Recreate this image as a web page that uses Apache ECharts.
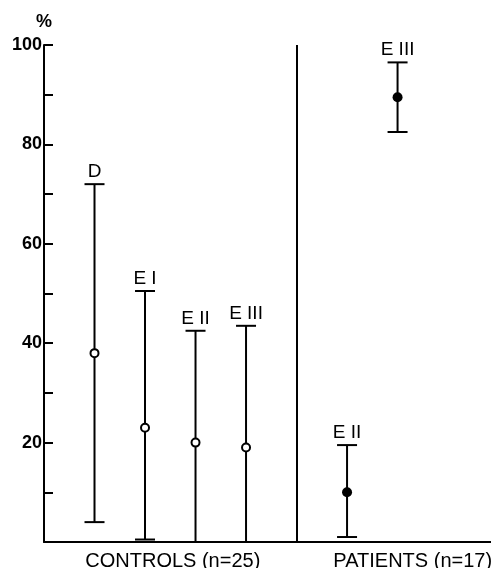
<!DOCTYPE html>
<html>
<head>
<meta charset="utf-8">
<script src="https://cdn.jsdelivr.net/npm/echarts@6/dist/echarts.min.js"></script>
<style>html,body{margin:0;padding:0;background:#fff;}#c{width:491px;height:568px;}</style>
</head>
<body>
<div id="c"></div>
<script>
// Data
const labels = ["D", "E I", "E II", "E III", "E II", "E III"];
const slots = [1, 2, 3, 4, 6, 7];          // horizontal slot of each marker
const groups = ["control", "control", "control", "control", "patient", "patient"];
const means = [38, 23, 20, 19, 10, 89.5];
const lows = [4, 0.5, 0, 0, 1, 82.5];
const highs = [72, 50.5, 42.5, 43.5, 19.5, 96.5];
const dividerSlot = 5;
const groupLabels = ["CONTROLS (n=25)", "PATIENTS (n=17)"];
const groupLabelPos = [2.55, 7.3];
const yTickLabels = [20, 40, 60, 80, 100];

const errData = slots.map((s, i) => [s, lows[i], highs[i], labels[i]]);
const ctrlPts = [], patPts = [];
slots.forEach((s, i) => {
  (groups[i] === "control" ? ctrlPts : patPts).push([s, means[i]]);
});

const FONT = 'Liberation Sans, Arial, sans-serif';
const chart = echarts.init(document.getElementById('c'));
chart.setOption({
  animation: false,
  backgroundColor: '#fff',
  grid: { left: 44, right: 0, top: 45, bottom: 26, containLabel: false, outerBoundsMode: 'none' },
  xAxis: {
    type: 'value', min: 0, max: 8.85,
    splitLine: { show: false },
    axisLine: { show: true, onZero: false, lineStyle: { color: '#000', width: 2 } },
    axisTick: { show: false },
    axisLabel: {
      show: true,
      customValues: groupLabelPos,
      formatter: v => {
        const k = groupLabelPos.findIndex(p => Math.abs(p - v) < 1e-6);
        return k >= 0 ? groupLabels[k] : '';
      },
      color: '#000', fontSize: 20, fontFamily: FONT,
      margin: 9
    }
  },
  yAxis: {
    type: 'value', min: 0, max: 100, interval: 10,
    name: '%', nameLocation: 'end', nameGap: 14,
    nameTextStyle: { color: '#000', fontSize: 18, fontWeight: 'bold', align: 'center', fontFamily: FONT },
    splitLine: { show: false },
    axisLine: { show: true, lineStyle: { color: '#000', width: 2 } },
    axisTick: { show: true, inside: true, length: 9, lineStyle: { color: '#000', width: 2 } },
    axisLabel: {
      color: '#000', fontSize: 18, fontWeight: 'bold', margin: 2,
      fontFamily: FONT,
      formatter: v => yTickLabels.includes(v) ? String(v) : ''
    }
  },
  series: [
    {
      type: 'custom',
      data: errData,
      renderItem: (params, api) => {
        const x = api.value(0);
        const lo = api.coord([x, api.value(1)]);
        const hi = api.coord([x, api.value(2)]);
        const half = 10;
        const st = { stroke: '#000', lineWidth: 2 };
        return {
          type: 'group',
          children: [
            { type: 'line', shape: { x1: lo[0], y1: lo[1], x2: hi[0], y2: hi[1] }, style: st },
            { type: 'line', shape: { x1: hi[0] - half, y1: hi[1], x2: hi[0] + half, y2: hi[1] }, style: st },
            { type: 'line', shape: { x1: lo[0] - half, y1: lo[1], x2: lo[0] + half, y2: lo[1] }, style: st },
            { type: 'text', x: hi[0], y: hi[1] - 3, style: { text: labels[params.dataIndex], fill: '#000', fontSize: 19, fontFamily: FONT, align: 'center', verticalAlign: 'bottom' } }
          ]
        };
      },
      markLine: {
        silent: true, symbol: 'none', label: { show: false },
        lineStyle: { color: '#000', width: 2, type: 'solid' },
        data: [[{ coord: [dividerSlot, 0] }, { coord: [dividerSlot, 100] }]]
      },
      z: 2
    },
    {
      type: 'scatter', data: ctrlPts, symbol: 'circle', symbolSize: 8,
      itemStyle: { color: '#fff', borderColor: '#000', borderWidth: 2, opacity: 1 }, z: 3
    },
    {
      type: 'scatter', data: patPts, symbol: 'circle', symbolSize: 10,
      itemStyle: { color: '#000', opacity: 1 }, z: 3
    }
  ]
});
</script>
</body>
</html>
